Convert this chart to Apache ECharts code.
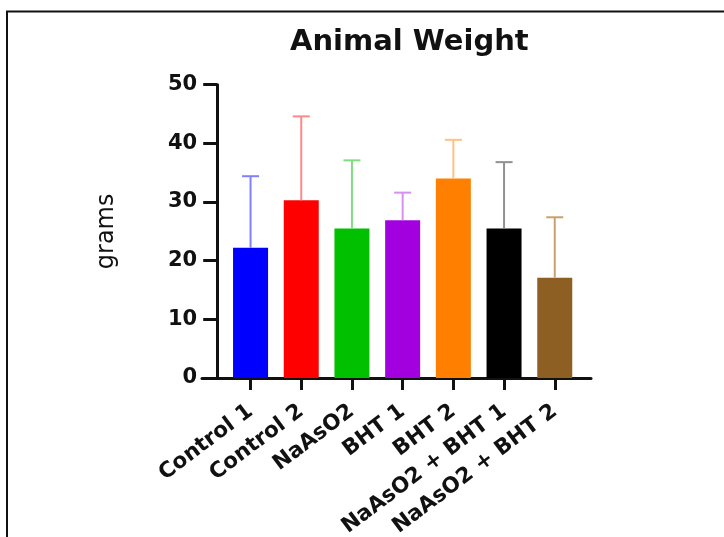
<!DOCTYPE html>
<html>
<head>
<meta charset="utf-8">
<script src="https://cdn.jsdelivr.net/npm/echarts@6/dist/echarts.min.js"></script>
<style>html,body{margin:0;padding:0;background:#fff;}#c{width:724px;height:537px;}</style>
</head>
<body>
<div id="c"></div>
<script>
const categories = ['Control 1', 'Control 2', 'NaAsO2', 'BHT 1', 'BHT 2', 'NaAsO2 + BHT 1', 'NaAsO2 + BHT 2'];
const means = [22.2, 30.3, 25.5, 26.9, 34.0, 25.5, 17.1];
const errorTops = [34.4, 44.6, 37.1, 31.6, 40.6, 36.8, 27.4];
const barColors = ['#0000ff', '#ff0000', '#00c000', '#a300e0', '#ff8000', '#000000', '#8d5f22'];
const errColors = ['#8080ff', '#ff8888', '#80dd80', '#d690f2', '#ffc080', '#909090', '#c9a06c'];
const yTicks = [0, 10, 20, 30, 40, 50];

const chart = echarts.init(document.getElementById('c'), null, {renderer: 'canvas'});
const font = 'DejaVu Sans';
const option = {
  backgroundColor: '#ffffff',
  animation: false,
  title: {
    text: 'Animal Weight',
    left: 285, top: 23,
    textStyle: {fontFamily: font, fontWeight: 'bold', fontSize: 29, color: '#111'}
  },
  graphic: [{
    type: 'rect', shape: {x: 7, y: 11.5, width: 740, height: 560},
    style: {fill: 'none', stroke: '#111', lineWidth: 2}
  }],
  grid: [
    {left: 225.2, right: 143.9, top: 84.7, bottom: 159, containLabel: false, outerBoundsMode: 'none'},
    {left: 202, right: 133, top: 84.7, bottom: 159, containLabel: false, outerBoundsMode: 'none'}
  ],
  xAxis: [{
    type: 'category', data: categories, gridIndex: 0,
    axisLine: {show: false},
    axisTick: {show: true, alignWithLabel: true, length: 12, lineStyle: {color: '#111', width: 3}},
    axisLabel: {rotate: 37, margin: 31, fontFamily: font, fontWeight: 'bold', fontSize: 21.5, color: '#111', interval: 0}
  }, {
    type: 'value', gridIndex: 1, min: 0, max: 1,
    axisLine: {show: true, lineStyle: {color: '#111', width: 3}},
    axisTick: {show: false}, axisLabel: {show: false}, splitLine: {show: false}
  }],
  yAxis: [{
    type: 'value', gridIndex: 0, min: yTicks[0], max: yTicks[yTicks.length - 1], interval: 10,
    offset: 8,
    name: 'grams', nameLocation: 'middle', nameRotate: 90, nameGap: 98,
    nameTextStyle: {fontFamily: font, fontSize: 24, color: '#111'},
    axisLine: {show: true, lineStyle: {color: '#111', width: 3}},
    axisTick: {show: true, length: 14, lineStyle: {color: '#111', width: 3}},
    axisLabel: {margin: 20, fontFamily: font, fontWeight: 'bold', fontSize: 21, color: '#111'},
    splitLine: {show: false}
  }, {
    type: 'value', gridIndex: 1, show: false, min: 0, max: 1
  }],
  series: [{
    type: 'bar', xAxisIndex: 0, yAxisIndex: 0,
    barWidth: 35,
    data: means.map((v, i) => ({value: v, itemStyle: {color: barColors[i]}})),
    z: 2
  }, {
    type: 'custom', xAxisIndex: 0, yAxisIndex: 0, z: 3,
    data: means.map((v, i) => [i, v, errorTops[i]]),
    renderItem: function (params, api) {
      const i = api.value(0);
      const base = api.coord([i, api.value(1)]);
      const top = api.coord([i, api.value(2)]);
      const hw = 8.5;
      const c = errColors[params.dataIndex];
      return {
        type: 'group',
        children: [
          {type: 'line', shape: {x1: base[0], y1: base[1], x2: top[0], y2: top[1]}, style: {stroke: c, lineWidth: 2}},
          {type: 'line', shape: {x1: top[0] - hw, y1: top[1], x2: top[0] + hw, y2: top[1]}, style: {stroke: c, lineWidth: 2}}
        ]
      };
    }
  }]
};
chart.setOption(option);
</script>
</body>
</html>
